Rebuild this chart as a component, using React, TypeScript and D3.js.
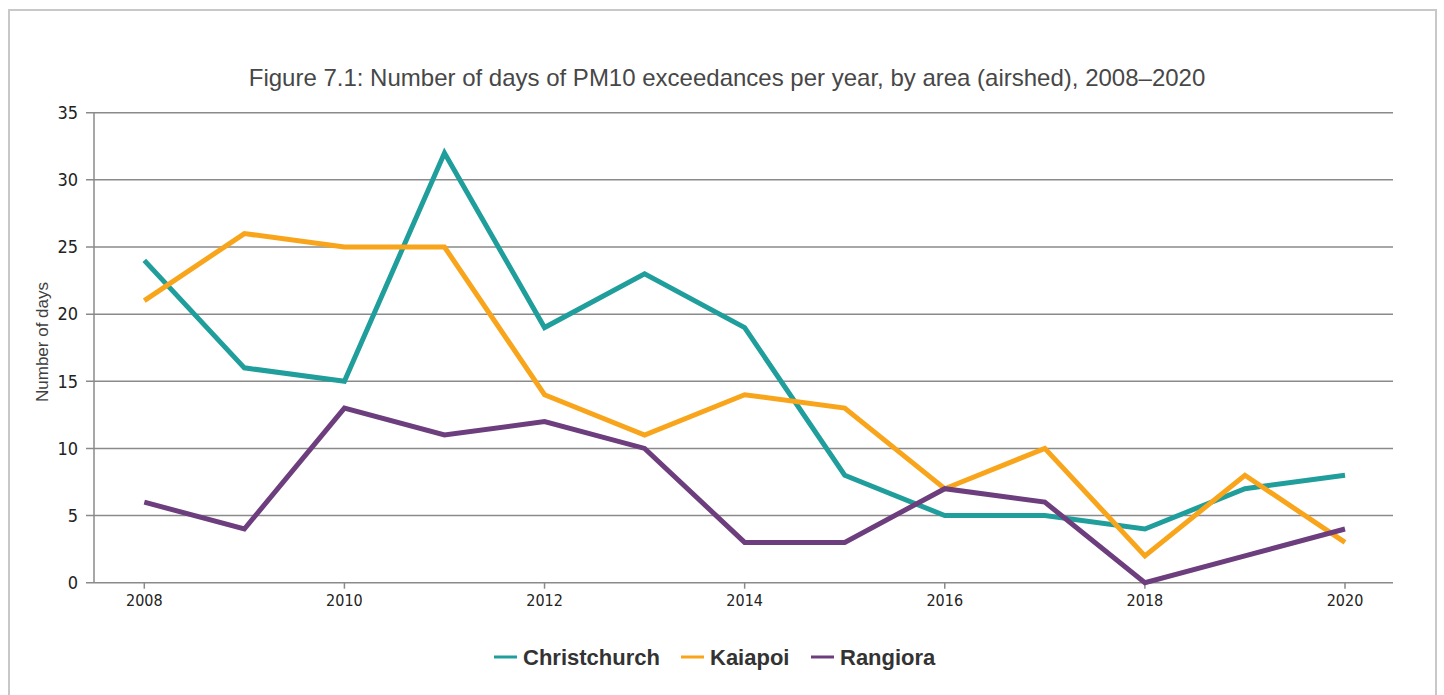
import { useEffect, useRef } from 'react'
import * as d3 from 'd3'

const years = [2008, 2009, 2010, 2011, 2012, 2013, 2014, 2015, 2016, 2017, 2018, 2019, 2020]
const christchurch = [24, 16, 15, 32, 19, 23, 19, 8, 5, 5, 4, 7, 8]
const kaiapoi = [21, 26, 25, 25, 14, 11, 14, 13, 7, 10, 2, 8, 3]
const rangiora = [6, 4, 13, 11, 12, 10, 3, 3, 7, 6, 0, 2, 4]
const seriesNames = ['Christchurch', 'Kaiapoi', 'Rangiora']
const seriesColors = ['#1f9e9c', '#f8a51b', '#6d3e7d']
const yTicks = [0, 5, 10, 15, 20, 25, 30, 35]
const xTicks = [2008, 2010, 2012, 2014, 2016, 2018, 2020]

const App = () => {
  const svgRef = useRef(null)

  useEffect(() => {
    const width = 1444
    const height = 695
    const svg = d3.select(svgRef.current)
    svg.selectAll('*').remove()

    // outer frame
    svg.append('rect')
      .attr('x', 9).attr('y', 10)
      .attr('width', 1427).attr('height', 700)
      .attr('fill', '#fff')
      .attr('stroke', '#c8c8c8')
      .attr('stroke-width', 2)

    const x = d3.scaleLinear().domain([2008, 2020]).range([144.3, 1345])
    const y = d3.scaleLinear().domain([0, 35]).range([582.7, 112.7])

    svg.append('text')
      .attr('x', 727).attr('y', 86)
      .attr('text-anchor', 'middle')
      .style('font-family', '"Liberation Sans", Arial, sans-serif')
      .style('font-size', '24px')
      .attr('fill', '#474747')
      .text('Figure 7.1: Number of days of PM10 exceedances per year, by area (airshed), 2008–2020')

    // gridlines
    svg.append('g')
      .selectAll('line')
      .data(yTicks)
      .join('line')
      .attr('x1', 86).attr('x2', 1393)
      .attr('y1', d => y(d)).attr('y2', d => y(d))
      .attr('stroke', '#8a8a8a')
      .attr('stroke-width', 1.5)

    // y axis line
    svg.append('line')
      .attr('x1', 94).attr('x2', 94)
      .attr('y1', y(35)).attr('y2', y(0))
      .attr('stroke', '#8a8a8a').attr('stroke-width', 1.5)

    const narrow = '"Liberation Sans Narrow", "DejaVu Sans Condensed", Arial, sans-serif'

    svg.append('g')
      .selectAll('text')
      .data(yTicks)
      .join('text')
      .attr('x', 78).attr('y', d => y(d))
      .attr('dy', '0.35em')
      .attr('text-anchor', 'end')
      .style('font-family', narrow)
      .style('font-size', '18px')
      .attr('fill', '#222')
      .text(d => d)

    // x ticks
    svg.append('g')
      .selectAll('line')
      .data(xTicks)
      .join('line')
      .attr('x1', d => x(d)).attr('x2', d => x(d))
      .attr('y1', y(0)).attr('y2', y(0) + 6)
      .attr('stroke', '#8a8a8a').attr('stroke-width', 1.5)

    svg.append('g')
      .selectAll('text')
      .data(xTicks)
      .join('text')
      .attr('x', d => x(d)).attr('y', 606)
      .attr('text-anchor', 'middle')
      .style('font-family', narrow)
      .style('font-size', '16px')
      .attr('fill', '#222')
      .text(d => d)

    svg.append('text')
      .attr('transform', 'translate(48,342) rotate(-90)')
      .attr('text-anchor', 'middle')
      .style('font-family', '"Liberation Sans", Arial, sans-serif')
      .style('font-size', '17px')
      .attr('fill', '#404040')
      .text('Number of days')

    const line = d3.line<number>()
      .x((d, i) => x(years[i]))
      .y(d => y(d))

    const series = [christchurch, kaiapoi, rangiora]
    svg.append('g')
      .selectAll('path')
      .data(series)
      .join('path')
      .attr('d', d => line(d))
      .attr('fill', 'none')
      .attr('stroke', (d, i) => seriesColors[i])
      .attr('stroke-width', 5)
      .attr('stroke-linejoin', 'miter')

    // legend
    const legendX = [494, 681, 811]
    const legend = svg.append('g')
      .selectAll('g')
      .data(seriesNames)
      .join('g')
      .attr('transform', (d, i) => `translate(${legendX[i]},657)`)
    legend.append('line')
      .attr('x1', 0).attr('x2', 23)
      .attr('stroke', (d, i) => seriesColors[i])
      .attr('stroke-width', 3)
    legend.append('text')
      .attr('x', 29).attr('dy', '0.35em')
      .style('font-family', '"Liberation Sans", Arial, sans-serif')
      .style('font-size', '22px')
      .style('font-weight', 'bold')
      .attr('fill', '#333')
      .text(d => d)

    svg.attr('width', width).attr('height', height)
  }, [])

  return (
    <svg ref={svgRef} style={{ position: 'absolute', left: 0, top: 0 }}></svg>
  )
}

export default App
